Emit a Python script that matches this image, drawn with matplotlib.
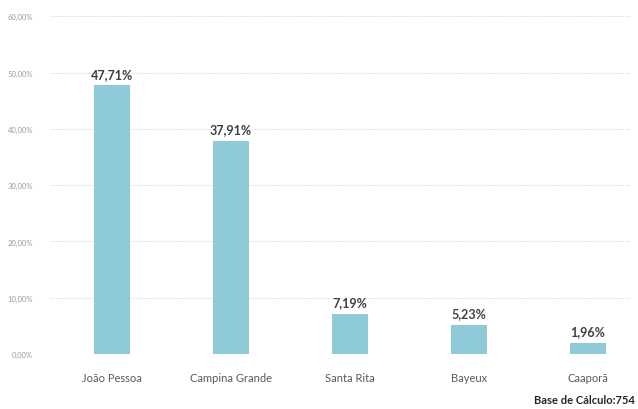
import matplotlib
matplotlib.use("Agg")
import matplotlib.pyplot as plt

cities = ["João Pessoa", "Campina Grande", "Santa Rita", "Bayeux", "Caaporã"]
shares = [47.71, 37.91, 7.19, 5.23, 1.96]
y_ticks = [0, 10, 20, 30, 40, 50, 60]
base_total = 754

plt.rcParams["font.family"] = ["Lato", "DejaVu Sans"]

fig = plt.figure(figsize=(6.38, 4.10), dpi=100)
ax = fig.add_axes([0.078, 0.134, 0.909, 0.824])

x = range(len(cities))
ax.bar(x, shares, width=0.3, color="#8FCAD9", zorder=2)

for xi, v in zip(x, shares):
    ax.text(xi, v + 1.0, f"{v:.2f}%".replace(".", ","), ha="center", va="bottom",
            fontsize=9, fontweight="bold", color="#404040")

ax.set_xlim(-0.52, 4.35)
ax.set_ylim(0, 60)
ax.set_yticks(y_ticks)
ax.set_yticklabels([f"{t:.2f}%".replace(".", ",") for t in y_ticks],
                   fontsize=5.5, color="#9a9a9a")
ax.set_xticks(list(x))
ax.set_xticklabels(cities, fontsize=8, color="#595959")
ax.tick_params(axis="both", length=0)
ax.tick_params(axis="x", pad=13)
ax.tick_params(axis="y", pad=12)

ax.grid(axis="y", color="#e4e4e4", linewidth=0.7, linestyle=(0, (2, 1)), zorder=0)
for s in ax.spines.values():
    s.set_visible(False)

fig.text(0.995, 0.01, f"Base de Cálculo:{base_total}", ha="right", va="bottom",
         fontsize=8, fontweight="bold", color="#262626")

fig.savefig("out.png", dpi=100)
